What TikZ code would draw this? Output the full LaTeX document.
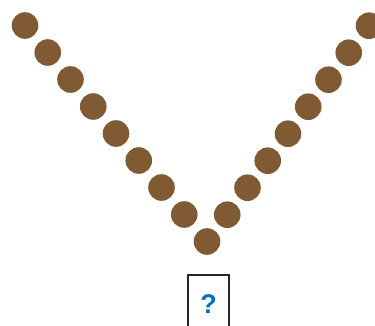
\documentclass[tikz,border=0pt]{standalone}
\usepackage{fontspec}
\setmainfont{Liberation Sans}
\definecolor{bead}{RGB}{128,90,50}
\definecolor{qblue}{RGB}{0,112,192}
\tikzset{
  beadstyle/.style={circle,fill=bead,minimum size=26.6pt,inner sep=0pt},
  qbox/.style={draw=black!85,line width=2pt}
}
\begin{document}
\begin{tikzpicture}[x=1pt,y=-1pt]
\useasboundingbox (0,0) rectangle (375,325);
\foreach \i in {0,...,8} {
  \node[beadstyle] (l\i) at ({25+22.75*\i},{25.5+27*\i}) {};
}
\foreach \i in {1,...,8} {
  \node[beadstyle] (r\i) at ({207+20.25*\i},{241.7-27*\i}) {};
}
\draw[qbox] (188.3,340) -- (188.3,275) -- (229.3,275) -- (229.3,340);
\node[text=qblue,font=\fontsize{27}{27}\selectfont\bfseries] (q) at (208.5,304) {?};
\end{tikzpicture}
\end{document}
